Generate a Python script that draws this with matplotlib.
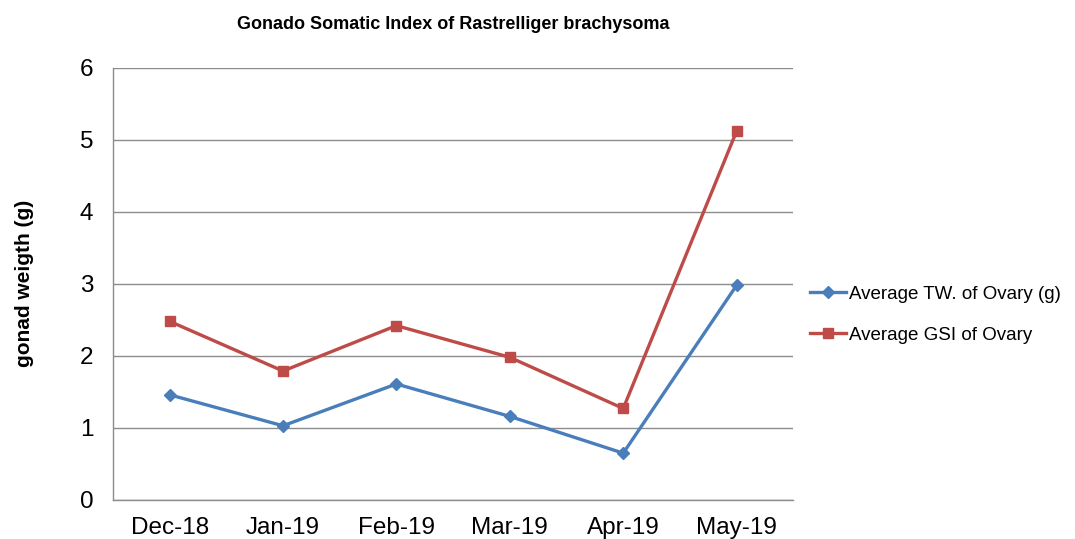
import matplotlib
matplotlib.use("Agg")
import matplotlib.pyplot as plt

plt.rcParams['font.family'] = ['Liberation Sans', 'DejaVu Sans']

months = ["Dec-18", "Jan-19", "Feb-19", "Mar-19", "Apr-19", "May-19"]
tw_ovary = [1.46, 1.03, 1.61, 1.16, 0.65, 2.98]
gsi_ovary = [2.48, 1.79, 2.42, 1.98, 1.27, 5.12]
yticks = [0, 1, 2, 3, 4, 5, 6]

fig = plt.figure(figsize=(10.75, 5.39), dpi=100)
ax = fig.add_axes([0.105, 0.0724, 0.633, 0.802])

x = list(range(len(months)))
ax.plot(x, tw_ovary, color="#4A7EBB", lw=2.4, marker="D", ms=6.5,
        label="Average TW. of Ovary (g)")
ax.plot(x, gsi_ovary, color="#BE4B48", lw=2.4, marker="s", ms=7.5,
        label="Average GSI of Ovary")

ax.set_xlim(-0.5, 5.5)
ax.set_ylim(0, 6)
ax.set_yticks(yticks)
ax.set_xticks(x)
ax.set_xticklabels(months)
ax.tick_params(axis="both", length=0, labelsize=17.5, colors="black")
ax.tick_params(axis="y", pad=14)
ax.tick_params(axis="x", pad=12)
ax.grid(axis="y", color="#8c8c8c", lw=1)
ax.set_axisbelow(True)
for s in ["top", "right"]:
    ax.spines[s].set_visible(False)
for s in ["left", "bottom"]:
    ax.spines[s].set_color("#8c8c8c")
    ax.spines[s].set_linewidth(1)

ax.set_ylabel("gonad weigth (g)", fontsize=15, fontweight="bold", labelpad=33)
ax.set_title("Gonado Somatic Index of Rastrelliger brachysoma", fontsize=13,
             fontweight="bold", pad=28)

fig.legend(loc="center left", bbox_to_anchor=(0.738, 0.416), frameon=False,
           fontsize=13.5, handlelength=1.9, handletextpad=0.15, labelspacing=1.25)

fig.savefig("out.png", dpi=100)
